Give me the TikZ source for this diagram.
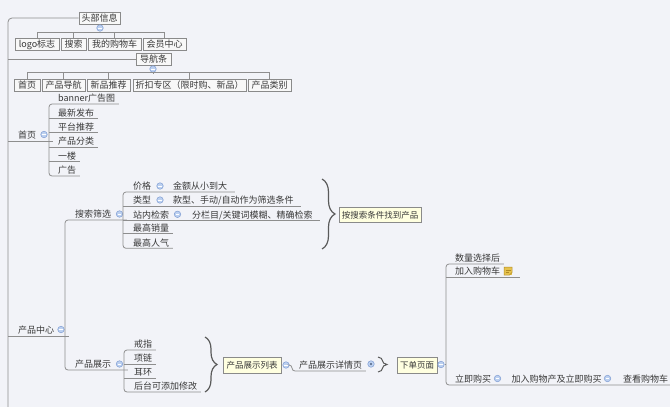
\documentclass[tikz,border=0pt]{standalone}
\usepackage{fontspec}
\setmainfont{Noto Sans CJK SC}
\usetikzlibrary{decorations.pathreplacing,calc}
\definecolor{bg}{HTML}{F2F3F8}
\definecolor{ln}{HTML}{8E8E8E}
\definecolor{bx}{HTML}{8A8A8A}
\definecolor{bxf}{HTML}{F8F8F8}
\definecolor{yf}{HTML}{FFFFE0}
\definecolor{tx}{HTML}{383838}
\definecolor{cf}{HTML}{BCD0F0}
\definecolor{cd}{HTML}{7F9DD3}
\definecolor{br}{HTML}{5A5A5A}
\definecolor{note}{HTML}{E6C24E}
\definecolor{noted}{HTML}{B08A22}
\begin{document}
\begin{tikzpicture}[x=1pt,y=-1pt,
  every node/.style={text=tx, font=\fontsize{9}{10}\selectfont},
  box/.style={draw=bx, fill=bxf, line width=0.8pt, minimum height=12pt, inner sep=0pt, text height=7.9pt, text depth=1.1pt},
  ybox/.style={draw=bx, fill=yf, line width=0.8pt, inner sep=0pt, text height=7.5pt, text depth=1pt, font=\fontsize{8.5}{10}\selectfont},
  topic/.style={anchor=south west, inner xsep=0pt, inner ysep=1pt, text height=7.9pt, text depth=1.1pt, execute at begin node={\hspace*{#1}}, execute at end node={\hspace*{3.5pt}}},
  topic/.default=9pt,
  epad/.style={execute at end node={\hspace*{#1}}},
  conn/.style={draw=ln, line width=0.8pt},
  tog/.style={circle, draw=cd, fill=cf, line width=0.5pt, minimum size=6.5pt, inner sep=0pt,
    path picture={\draw[white, line width=0.8pt] ([xshift=-1.8pt]path picture bounding box.center) -- ([xshift=1.8pt]path picture bounding box.center);}},
  togdot/.style={circle, draw=cd, fill=cf, line width=0.5pt, minimum size=6.5pt, inner sep=0pt,
    path picture={\fill[cd!60!black] (path picture bounding box.center) circle (1.1pt);}},
  bracest/.style={decorate, decoration={brace, amplitude=#1}, draw=br, line width=1.2pt},
]
\useasboundingbox (0,0) rectangle (670,407);
\fill[bg] (0,0) rectangle (670,407);

% ---------- header ----------
\node[box, minimum width=41pt] (tb) at (99.5,18) {头部信息};
\node[tog] (tbc) at (100,28) {};
\node[box, minimum width=44pt] (logo) at (37,44) {logo标志};
\node[box, minimum width=25pt] (ss) at (73.5,44) {搜索};
\node[box, minimum width=53pt] (gwc) at (114.5,44) {我的购物车};
\node[box, minimum width=43pt] (hy) at (164.5,44) {会员中心};
\draw[conn] (tbc.south) -- (tbc |- 0,32.5);
\draw[conn] (logo.north) -- ++(0,-5.5) -| (hy.north);
\draw[conn] (ss.north) -- ++(0,-5.5);
\draw[conn] (gwc.north) -- ++(0,-5.5);

% ---------- navigation ----------
\node[box, minimum width=35pt] (dh) at (153.5,59) {导航条};
\node[tog] (dhc) at (153,69) {};
\node[box, minimum width=26pt] (sy) at (27,85) {首页};
\node[box, minimum width=43pt] (cpdh) at (63.5,85) {产品导航};
\node[box, minimum width=43pt] (xptj) at (108.5,85) {新品推荐};
\node[box, minimum width=113pt] (zk) at (189.5,85) {折扣专区（限时购、新品）};
\node[box, minimum width=43pt] (cplb) at (269.5,85) {产品类别};
\draw[conn] (dhc.south) -- (dhc |- 0,73);
\draw[conn] (sy.north) -- ++(0,-6) -| (cplb.north);
\draw[conn] (cpdh.north) -- ++(0,-6);
\draw[conn] (xptj.north) -- ++(0,-6);
\draw[conn] (zk.north) -- ++(0,-6);

% ---------- trunk ----------
\draw[conn, rounded corners=4] (tb.west) -| (8,407);
\draw[conn] (dh.west -| 8,0) -- (dh.west);

% ---------- 首页 ----------
\node[topic=10pt, epad=13pt] (syt) at (8,141) {首页};
\node[tog] at (44,134.5) {};
\draw[conn] (syt.south west) -- (syt.south east);
\node[topic] (s1) at (49,104) {banner广告图};
\node[topic] (s2) at (49,118.4) {最新发布};
\node[topic] (s3) at (49,132.8) {平台推荐};
\node[topic] (s4) at (49,147.2) {产品分类};
\node[topic] (s5) at (49,161.6) {一楼};
\node[topic] (s6) at (49,176) {广告};
\draw[conn, rounded corners=3] (s1.south east) -- (s1.south west) -- (s6.south west) -- (s6.south east);
\foreach \n in {s2,s3,s4,s5} \draw[conn] (\n.south west) -- (\n.south east);

% ---------- 产品中心 ----------
\node[topic=10pt, epad=11pt] (cpzx) at (8,336) {产品中心};
\node[tog] at (61,329.5) {};
\draw[conn] (cpzx.south west) -- (cpzx.south east);
\node[topic=10pt, epad=12pt] (sssx) at (65,220) {搜索筛选};
\node[tog] at (119.5,214) {};
\node[topic=10pt, epad=13pt] (cpzs) at (65,370) {产品展示};
\node[tog] at (119.5,364) {};
\draw[conn, rounded corners=3] (sssx.south east) -- (sssx.south west) -- (cpzs.south west) -- (cpzs.south east);

% ---------- 搜索筛选 children ----------
\node[topic=10pt, epad=0pt] (jg) at (123,192) {价格};
\node[tog] at (160,186) {};
\node[topic=4pt, epad=4pt] (jgc) at (169,192) {金额从小到大};
\node[topic=10pt, epad=0pt] (lx) at (123,206) {类型};
\node[tog] at (160,200) {};
\node[topic=4pt, epad=4pt] (lxc) at (169,206) {款型、手动/自动作为筛选条件};
\node[topic=10pt, epad=0pt] (znjs) at (123,220.5) {站内检索};
\node[tog] at (177.5,214.3) {};
\node[topic=5pt, epad=4pt] (znjsc) at (187,220.5) {分栏目/关键词模糊、精确检索};
\node[topic=10pt] (zgxl) at (123,233.5) {最高销量};
\node[topic=10pt] (zgrq) at (123,248.3) {最高人气};
\draw[conn, rounded corners=3] (jgc.south east) -- (jg.south west) -- (zgrq.south west) -- (zgrq.south east);
\draw[conn] (lx.south west) -- (lxc.south east);
\draw[conn] (znjs.south west) -- (znjsc.south east);
\draw[conn] (zgxl.south west) -- (zgxl.south east);

\coordinate (b1a) at (322,179);
\coordinate (b1b) at (322,249);
\draw[bracest=13pt] (b1a) -- (b1b);
\node[ybox, minimum width=82pt, minimum height=15pt] (asc) at (380,215) {按搜索条件找到产品};

% ---------- 产品展示 children ----------
\node[topic=10pt] (jz) at (124,350) {戒指};
\node[topic=10pt] (xl) at (124,364) {项链};
\node[topic=10pt] (eh) at (124,378) {耳环};
\node[topic=10pt] (htk) at (124,392) {后台可添加修改};
\draw[conn, rounded corners=3] (jz.south east) -- (jz.south west) -- (htk.south west) -- (htk.south east);
\draw[conn] (xl.south west) -- (xl.south east);
\draw[conn] (eh.south west) -- (eh.south east);

\coordinate (b2a) at (205,337);
\coordinate (b2b) at (205,392);
\draw[bracest=12pt] (b2a) -- (b2b);
\node[ybox, minimum width=58pt, minimum height=16pt] (cplist) at (252,365) {产品展示列表};
\node[tog] (c1) at (286,365) {};
\node[topic=7pt] (xqy) at (292,371) {产品展示详情页};
\draw[conn, rounded corners=3] (c1.east) -| (xqy.south west) -- (xqy.south east);
\node[togdot] (c2) at (371,364) {};
\coordinate (b3a) at (378,357);
\coordinate (b3b) at (378,372);
\draw[bracest=9pt, line width=1pt] (b3a) -- (b3b);
\node[ybox, minimum width=40pt, minimum height=16pt] (xd) at (417,365) {下单页面};
\node[tog] (c3) at (441,364.5) {};

% ---------- 下单页面 children ----------
\node[topic] (slx) at (446,264) {数量选择后};
\node[topic, epad=16pt] (jr) at (446,277) {加入购物车};
\node[topic] (ljgm) at (446,385) {立即购买};
\node[tog] at (497.5,378.5) {};
\node[topic=6.5pt, epad=0pt] (ljgm2) at (505,385) {加入购物产及立即购买};
\node[tog] at (607.5,378.5) {};
\node[topic=8pt, epad=0pt] (ckgwc) at (615,385) {查看购物车};
\draw[conn, rounded corners=3] (slx.south east) -- (slx.south west) -- (ljgm.south west) -- (ckgwc.south east);
\draw[conn] (jr.south west) -- (jr.south east);
\draw[conn] (c3.east) -- (c3.east -| slx.south west);
% note icon
\fill[note] (504,267) rectangle (512,275);
\draw[noted, line width=0.5pt] (504,267) -- (512,267) -- (512,272.5) -- (509.5,275) -- (504,275) -- cycle;
\draw[noted, line width=0.5pt] (505.5,270) -- (510.5,270) (505.5,272) -- (509,272);
\end{tikzpicture}
\end{document}
